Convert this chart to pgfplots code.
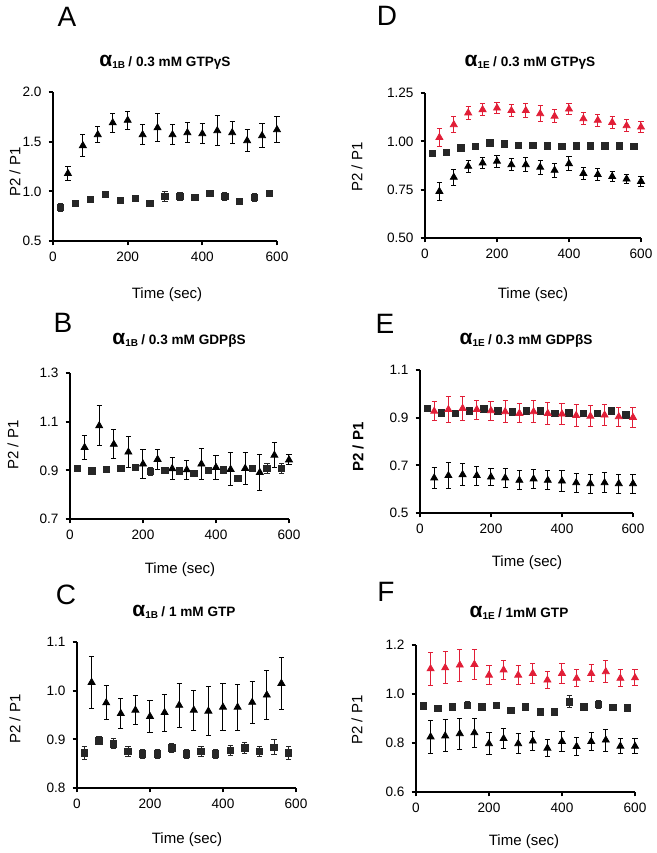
\documentclass[border=0pt]{standalone}
\usepackage{pgfplots}
\pgfplotsset{compat=1.18}
\usepackage{fontspec}
\setmainfont{Liberation Sans}
\definecolor{redm}{RGB}{225,30,55}
\newcommand{\ttl}[2]{\textbf{{\fontsize{10.5}{10}\selectfont α}{\fontsize{5}{5}\selectfont\raisebox{-1.3pt}{#1}}\,{\fontsize{6.8}{7}\selectfont #2}}}
\pgfplotsset{
  panel/.style={scale only axis, axis lines*=left, xmin=0, xmax=600,
    xtick={0,200,400,600}, tick align=outside, clip=false, anchor=south west,
    axis line style={line width=0.9pt, black},
    major tick length=2.2pt,
    every tick/.style={line width=0.9pt, black},
    tick label style={font=\fontsize{6.8}{7}\selectfont},
    /pgf/number format/assume math mode=true,
    yticklabel style={/pgf/number format/.cd, fixed, fixed zerofill, precision=1},
    xticklabel style={/pgf/number format/.cd, fixed, precision=0}},
  ebar/.style={error bars/.cd, y dir=both, y explicit,
    error bar style={line width=0.5pt},
    error mark options={rotate=90, mark size=1.3pt, line width=0.5pt}},
  tri/.style={only marks, mark=triangle*, mark size=2pt, black, ebar},
  trir/.style={only marks, mark=triangle*, mark size=2pt, redm, ebar},
  sq/.style={only marks, mark=square*, mark size=1.6pt, black!85, ebar},
}
\begin{document}
\begin{tikzpicture}
\path[use as bounding box] (0,0) rectangle (328.5pt,426.5pt);
% ---------- A ----------
\begin{axis}[panel, at={(26.5pt,306pt)}, width=112pt, height=74.5pt,
  ymin=0.5, ymax=2.0, ytick={0.5,1.0,1.5,2.0}]
\addplot[tri] coordinates {(40,1.18)+-(0,0.07) (80,1.46)+-(0,0.11) (120,1.57)+-(0,0.08) (160,1.69)+-(0,0.095) (200,1.715)+-(0,0.09) (240,1.57)+-(0,0.1) (280,1.64)+-(0,0.14) (320,1.57)+-(0,0.1) (360,1.59)+-(0,0.1) (400,1.58)+-(0,0.1) (440,1.61)+-(0,0.15) (480,1.59)+-(0,0.11) (520,1.51)+-(0,0.11) (560,1.56)+-(0,0.12) (600,1.62)+-(0,0.13)};
\addplot[sq] coordinates {(20,0.84)+-(0,0.04) (60,0.88)+-(0,0.03) (100,0.92)+-(0,0.02) (140,0.97)+-(0,0.01) (180,0.91)+-(0,0.03) (220,0.93)+-(0,0.01) (260,0.88)+-(0,0.02) (300,0.95)+-(0,0.05) (340,0.95)+-(0,0.04) (380,0.94)+-(0,0.02) (420,0.98)+-(0,0.03) (460,0.95)+-(0,0.04) (500,0.90)+-(0,0.03) (540,0.94)+-(0,0.04) (580,0.98)+-(0,0.01)};
\end{axis}
% ---------- D ----------
\begin{axis}[panel, at={(212.5pt,307.5pt)}, width=108pt, height=72.5pt,
  ymin=0.5, ymax=1.25, ytick={0.5,0.75,1.0,1.25},
  yticklabel style={/pgf/number format/.cd, fixed, fixed zerofill, precision=2}]
\addplot[trir] coordinates {(40,1.02)+-(0,0.045) (80,1.086)+-(0,0.04) (120,1.147)+-(0,0.035) (160,1.164)+-(0,0.03) (200,1.172)+-(0,0.03) (240,1.159)+-(0,0.03) (280,1.159)+-(0,0.035) (320,1.143)+-(0,0.04) (360,1.13)+-(0,0.035) (400,1.167)+-(0,0.03) (440,1.117)+-(0,0.03) (480,1.109)+-(0,0.03) (520,1.098)+-(0,0.03) (560,1.081)+-(0,0.03) (600,1.074)+-(0,0.03)};
\addplot[sq] coordinates {(20,0.938)+-(0,0.005) (60,0.943)+-(0,0.005) (100,0.966)+-(0,0.005) (140,0.974)+-(0,0.005) (180,0.991)+-(0,0.005) (220,0.986)+-(0,0.005) (260,0.979)+-(0,0.005) (300,0.979)+-(0,0.005) (340,0.977)+-(0,0.005) (380,0.974)+-(0,0.005) (420,0.977)+-(0,0.005) (460,0.977)+-(0,0.005) (500,0.977)+-(0,0.005) (540,0.977)+-(0,0.005) (580,0.974)+-(0,0.005)};
\addplot[tri] coordinates {(40,0.741)+-(0,0.045) (80,0.814)+-(0,0.04) (120,0.871)+-(0,0.03) (160,0.888)+-(0,0.03) (200,0.897)+-(0,0.03) (240,0.879)+-(0,0.03) (280,0.879)+-(0,0.035) (320,0.866)+-(0,0.035) (360,0.85)+-(0,0.035) (400,0.884)+-(0,0.035) (440,0.834)+-(0,0.03) (480,0.828)+-(0,0.03) (520,0.818)+-(0,0.025) (560,0.805)+-(0,0.025) (600,0.793)+-(0,0.025)};
\end{axis}
% ---------- B ----------
\begin{axis}[panel, at={(35pt,167pt)}, width=109.5pt, height=73pt,
  ymin=0.7, ymax=1.3, ytick={0.7,0.9,1.1,1.3}]
\addplot[tri] coordinates {(40,0.994)+-(0,0.048) (80,1.083)+-(0,0.083) (120,1.007)+-(0,0.06) (160,0.975)+-(0,0.062) (200,0.926)+-(0,0.058) (240,0.945)+-(0,0.04) (280,0.907)+-(0,0.044) (320,0.902)+-(0,0.04) (360,0.926)+-(0,0.063) (400,0.912)+-(0,0.05) (440,0.904)+-(0,0.068) (480,0.908)+-(0,0.067) (520,0.891)+-(0,0.072) (560,0.962)+-(0,0.052) (600,0.943)+-(0,0.02)};
\addplot[sq] coordinates {(20,0.907)+-(0,0.01) (60,0.898)+-(0,0.005) (100,0.904)+-(0,0.01) (140,0.908)+-(0,0.005) (180,0.912)+-(0,0.008) (220,0.895)+-(0,0.015) (260,0.9)+-(0,0.005) (300,0.898)+-(0,0.01) (340,0.888)+-(0,0.012) (380,0.9)+-(0,0.01) (420,0.902)+-(0,0.005) (460,0.866)+-(0,0.005) (500,0.908)+-(0,0.01) (540,0.908)+-(0,0.02) (580,0.908)+-(0,0.02)};
\end{axis}
% ---------- E ----------
\begin{axis}[panel, at={(210pt,170pt)}, width=106.5pt, height=71.5pt,
  ymin=0.5, ymax=1.1, ytick={0.5,0.7,0.9,1.1}]
\addplot[sq] coordinates {(20,0.94)+-(0,0.005) (60,0.92)+-(0,0.01) (100,0.918)+-(0,0.01) (140,0.929)+-(0,0.005) (180,0.936)+-(0,0.005) (220,0.929)+-(0,0.005) (260,0.925)+-(0,0.005) (300,0.929)+-(0,0.01) (340,0.929)+-(0,0.005) (380,0.918)+-(0,0.01) (420,0.92)+-(0,0.005) (460,0.918)+-(0,0.01) (500,0.918)+-(0,0.01) (540,0.929)+-(0,0.005) (580,0.911)+-(0,0.01)};
\addplot[trir] coordinates {(40,0.927)+-(0,0.04) (80,0.934)+-(0,0.056) (120,0.939)+-(0,0.05) (160,0.934)+-(0,0.04) (200,0.929)+-(0,0.04) (240,0.925)+-(0,0.045) (280,0.918)+-(0,0.04) (320,0.925)+-(0,0.045) (360,0.918)+-(0,0.045) (400,0.915)+-(0,0.045) (440,0.909)+-(0,0.045) (480,0.906)+-(0,0.045) (520,0.911)+-(0,0.045) (560,0.904)+-(0,0.04) (600,0.901)+-(0,0.042)};
\addplot[tri] coordinates {(40,0.647)+-(0,0.043) (80,0.657)+-(0,0.054) (120,0.661)+-(0,0.045) (160,0.657)+-(0,0.04) (200,0.651)+-(0,0.035) (240,0.647)+-(0,0.038) (280,0.637)+-(0,0.04) (320,0.643)+-(0,0.04) (360,0.637)+-(0,0.04) (400,0.634)+-(0,0.045) (440,0.627)+-(0,0.04) (480,0.623)+-(0,0.04) (520,0.627)+-(0,0.042) (560,0.623)+-(0,0.04) (600,0.623)+-(0,0.04)};
\end{axis}
% ---------- C ----------
\begin{axis}[panel, at={(38.5pt,32.5pt)}, width=109.5pt, height=73pt,
  ymin=0.8, ymax=1.1, ytick={0.8,0.9,1.0,1.1}]
\addplot[tri] coordinates {(40,1.017)+-(0,0.053) (80,0.975)+-(0,0.035) (120,0.953)+-(0,0.03) (160,0.96)+-(0,0.03) (200,0.947)+-(0,0.033) (240,0.955)+-(0,0.038) (280,0.97)+-(0,0.045) (320,0.96)+-(0,0.041) (360,0.958)+-(0,0.05) (400,0.966)+-(0,0.048) (440,0.966)+-(0,0.047) (480,0.976)+-(0,0.043) (520,0.991)+-(0,0.05) (560,1.015)+-(0,0.053)};
\addplot[sq] coordinates {(20,0.872)+-(0,0.013) (60,0.897)+-(0,0.008) (100,0.891)+-(0,0.01) (140,0.875)+-(0,0.01) (180,0.87)+-(0,0.01) (220,0.87)+-(0,0.01) (260,0.882)+-(0,0.01) (300,0.87)+-(0,0.01) (340,0.875)+-(0,0.01) (380,0.87)+-(0,0.01) (420,0.877)+-(0,0.01) (460,0.882)+-(0,0.012) (500,0.875)+-(0,0.01) (540,0.884)+-(0,0.016) (580,0.872)+-(0,0.013)};
\end{axis}
% ---------- F ----------
\begin{axis}[panel, at={(208pt,30.5pt)}, width=109.5pt, height=73.5pt,
  ymin=0.6, ymax=1.2, ytick={0.6,0.8,1.0,1.2}]
\addplot[trir] coordinates {(40,1.103)+-(0,0.067) (80,1.107)+-(0,0.065) (120,1.118)+-(0,0.065) (160,1.121)+-(0,0.06) (200,1.077)+-(0,0.04) (240,1.098)+-(0,0.04) (280,1.077)+-(0,0.04) (320,1.084)+-(0,0.04) (360,1.057)+-(0,0.035) (400,1.084)+-(0,0.04) (440,1.064)+-(0,0.035) (480,1.084)+-(0,0.035) (520,1.091)+-(0,0.045) (560,1.064)+-(0,0.035) (600,1.066)+-(0,0.033)};
\addplot[sq] coordinates {(20,0.952)+-(0,0.005) (60,0.941)+-(0,0.005) (100,0.948)+-(0,0.01) (140,0.954)+-(0,0.015) (180,0.948)+-(0,0.01) (220,0.954)+-(0,0.01) (260,0.934)+-(0,0.01) (300,0.948)+-(0,0.01) (340,0.927)+-(0,0.01) (380,0.927)+-(0,0.01) (420,0.968)+-(0,0.025) (460,0.948)+-(0,0.015) (500,0.957)+-(0,0.015) (540,0.945)+-(0,0.01) (580,0.944)+-(0,0.01)};
\addplot[tri] coordinates {(40,0.825)+-(0,0.066) (80,0.829)+-(0,0.065) (120,0.838)+-(0,0.063) (160,0.842)+-(0,0.06) (200,0.797)+-(0,0.045) (240,0.818)+-(0,0.04) (280,0.797)+-(0,0.04) (320,0.808)+-(0,0.037) (360,0.779)+-(0,0.034) (400,0.806)+-(0,0.04) (440,0.786)+-(0,0.035) (480,0.806)+-(0,0.035) (520,0.812)+-(0,0.045) (560,0.787)+-(0,0.03) (600,0.787)+-(0,0.03)};
\end{axis}
% ---------- labels ----------
\begin{scope}[every node/.style={inner sep=0pt}]
\node[font=\fontsize{14}{14}\selectfont] at (33.5pt,418pt) {A};
\node[font=\fontsize{14}{14}\selectfont] at (193.5pt,418.5pt) {D};
\node[font=\fontsize{14}{14}\selectfont] at (31.5pt,265pt) {B};
\node[font=\fontsize{14}{14}\selectfont] at (192.5pt,264.5pt) {E};
\node[font=\fontsize{14}{14}\selectfont] at (33pt,129pt) {C};
\node[font=\fontsize{14}{14}\selectfont] at (193pt,130.5pt) {F};
\node at (82.5pt,395.5pt) {\ttl{1B}{/ 0.3 mM GTPγS}};
\node at (265pt,395.5pt) {\ttl{1E}{/ 0.3 mM GTPγS}};
\node at (89.5pt,256.5pt) {\ttl{1B}{/ 0.3 mM GDPβS}};
\node at (263pt,256.5pt) {\ttl{1E}{/ 0.3 mM GDPβS}};
\node at (92pt,120.5pt) {\ttl{1B}{/ 1 mM GTP}};
\node at (259.5pt,120pt) {\ttl{1E}{/ 1mM GTP}};
\begin{scope}[every node/.append style={font=\fontsize{7.5}{8}\selectfont}]
\node at (83.5pt,279pt) {Time (sec)};
\node at (266.5pt,279pt) {Time (sec)};
\node at (90pt,141.5pt) {Time (sec)};
\node at (263.5pt,145pt) {Time (sec)};
\node at (93.5pt,6.5pt) {Time (sec)};
\node at (262pt,5.5pt) {Time (sec)};
\node[rotate=90] at (7.5pt,340.5pt) {P2 / P1};
\node[rotate=90] at (178.5pt,343pt) {P2 / P1};
\node[rotate=90] at (6.5pt,204pt) {P2 / P1};
\node[rotate=90] at (179pt,203pt) {\textbf{P2 / P1}};
\node[rotate=90] at (7.5pt,67pt) {P2 / P1};
\node[rotate=90] at (178.5pt,66.5pt) {P2 / P1};
\end{scope}
\end{scope}
\end{tikzpicture}
\end{document}
